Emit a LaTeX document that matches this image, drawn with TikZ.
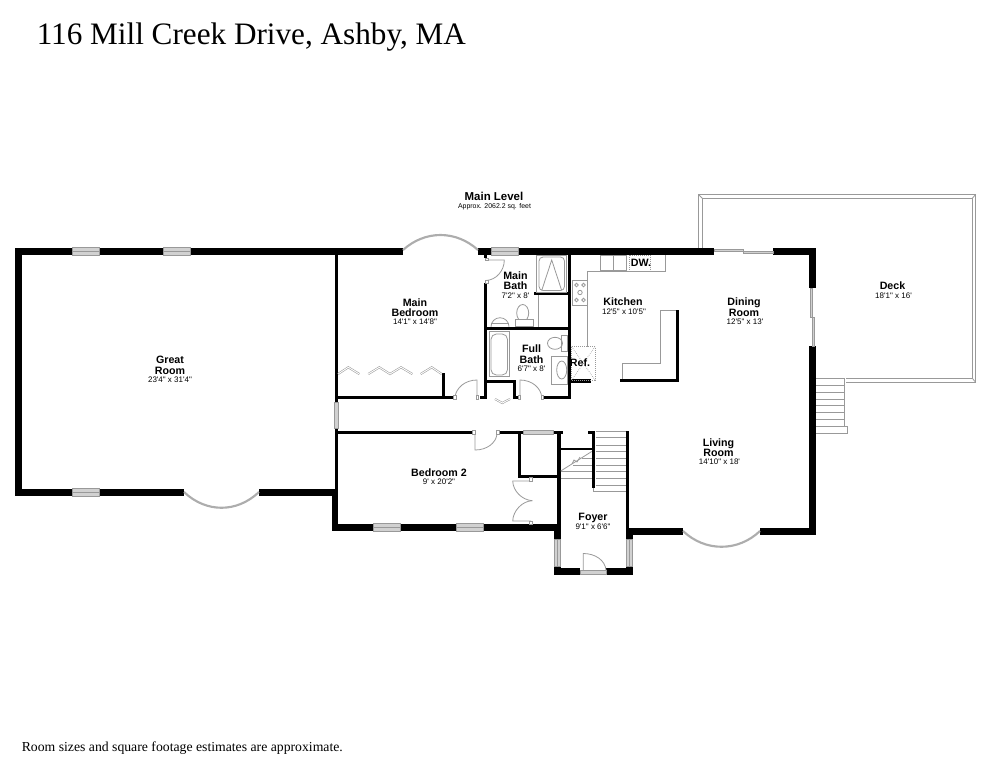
\documentclass[tikz,border=0pt]{standalone}
\usepackage{fontspec}
\usepackage{xcolor}
\newfontfamily\plansans{Liberation Sans}
\newfontfamily\planserif{Liberation Serif}
\definecolor{fixture}{gray}{0.6}
\definecolor{glass}{gray}{0.82}
\tikzset{
	wall/.style={fill=black},
	fixline/.style={draw=fixture, line width=0.6pt},
	bayline/.style={draw=fixture!80, line width=1.6pt},
	window/.style={draw=fixture, line width=0.5pt, fill=glass},
	doorleaf/.style={draw=fixture, line width=0.6pt},
	bifold/.style={draw=fixture, line width=0.4pt, double=white, double distance=0.7pt},
	jamb/.style={draw=fixture, line width=0.4pt, fill=white},
	dotbox/.style={draw=fixture, line width=0.5pt, densely dotted},
	roomname/.style={font=\plansans\bfseries\fontsize{8}{7.8}\selectfont, align=center, inner sep=0pt},
	roomsize/.style={font=\plansans\fontsize{6}{7}\selectfont, align=center, inner sep=0pt}
}

\begin{document}
\begin{tikzpicture}[x=0.75pt, y=-0.75pt]
	\useasboundingbox (0, 0) rectangle (994, 768);
	% Outer walls:
	\fill[wall] (15, 248) rectangle (72, 255);
	\fill[wall] (99, 248) rectangle (163, 255);
	\fill[wall] (190, 248) rectangle (403, 255);
	\fill[wall] (478, 248) rectangle (491, 255);
	\fill[wall] (518, 248) rectangle (714, 255);
	\fill[wall] (773, 248) rectangle (815.5, 255);
	\fill[wall] (15, 248) rectangle (22, 495.5);
	\fill[wall] (15, 488.5) rectangle (72, 495.5);
	\fill[wall] (99, 488.5) rectangle (184, 495.5);
	\fill[wall] (259, 488.5) rectangle (338, 495.5);
	\fill[wall] (331.5, 488.5) rectangle (338, 531);
	\fill[wall] (331.5, 524) rectangle (373, 531);
	\fill[wall] (400, 524) rectangle (456, 531);
	\fill[wall] (483, 524) rectangle (561, 531);
	\fill[wall] (554, 524) rectangle (561, 539);
	\fill[wall] (554, 566) rectangle (561, 575);
	\fill[wall] (554, 568) rectangle (580, 575);
	\fill[wall] (606, 568) rectangle (633, 575);
	\fill[wall] (626, 566) rectangle (633, 575);
	\fill[wall] (626, 527.5) rectangle (633, 539);
	\fill[wall] (626, 527.5) rectangle (683, 534.5);
	\fill[wall] (760, 527.5) rectangle (815.5, 534.5);
	\fill[wall] (808.5, 248) rectangle (815.5, 288);
	\fill[wall] (808.5, 346) rectangle (815.5, 534.5);
	% Inner walls:
	\fill[wall] (335, 252) rectangle (338, 402);
	\fill[wall] (335, 428) rectangle (338, 490);
	\fill[wall] (335, 395.7) rectangle (453.5, 399);
	\fill[wall] (441.7, 372.7) rectangle (445, 399);
	\fill[wall] (484.3, 252) rectangle (487.3, 258);
	\fill[wall] (484.3, 283) rectangle (487.3, 399);
	\fill[wall] (480, 395.7) rectangle (487.3, 399);
	\fill[wall] (484.3, 326.7) rectangle (570.7, 330);
	\fill[wall] (534.3, 292.3) rectangle (570.7, 295);
	\fill[wall] (567.7, 252) rectangle (570.7, 399);
	\fill[wall] (487, 380) rectangle (516, 383);
	\fill[wall] (513.3, 380) rectangle (516, 399);
	\fill[wall] (513, 395.7) rectangle (518, 399);
	\fill[wall] (543.5, 395.7) rectangle (570.7, 399);
	\fill[wall] (570, 379.3) rectangle (590.7, 382.7);
	\fill[wall] (620, 378.5) rectangle (679, 382);
	\fill[wall] (675.7, 309.5) rectangle (679, 382);
	\fill[wall] (335, 430.7) rectangle (472, 434);
	\fill[wall] (499, 430.7) rectangle (523, 434);
	\fill[wall] (553, 430.7) rectangle (563, 434);
	\fill[wall] (518, 431) rectangle (520.7, 477.5);
	\fill[wall] (518, 475) rectangle (560, 477.5);
	\fill[wall] (557.3, 431) rectangle (560.7, 528);
	\fill[wall] (560, 447.7) rectangle (592, 450.3);
	\fill[wall] (588, 431) rectangle (595, 434);
	\fill[wall] (591.7, 431) rectangle (595, 488);
	\fill[wall] (626, 431) rectangle (628.7, 528);
	% Windows:
	\filldraw[window] (72, 247.5) rectangle (99, 255.5);
	\draw[fixline] (72, 251.5) -- (99, 251.5);
	\filldraw[window] (163, 247.5) rectangle (190, 255.5);
	\draw[fixline] (163, 251.5) -- (190, 251.5);
	\filldraw[window] (72, 488) rectangle (99, 496);
	\draw[fixline] (72, 492) -- (99, 492);
	\filldraw[window] (491, 247.5) rectangle (518, 255.5);
	\draw[fixline] (491, 251.5) -- (518, 251.5);
	\filldraw[window] (373, 523.5) rectangle (400, 531.5);
	\draw[fixline] (373, 527.5) -- (400, 527.5);
	\filldraw[window] (456, 523.5) rectangle (483, 531.5);
	\draw[fixline] (456, 527.5) -- (483, 527.5);
	\filldraw[window] (523, 430.5) rectangle (553, 434.5);
	\filldraw[window] (334.8, 402) rectangle (338.2, 428);
	\filldraw[window] (554.5, 539) rectangle (560.5, 566);
	\draw[fixline] (557.5, 539) -- (557.5, 566);
	\filldraw[window] (626.5, 539) rectangle (632.5, 566);
	\draw[fixline] (629.5, 539) -- (629.5, 566);
	% Bay windows:
	\draw[bayline] (403, 250) .. controls (425, 230) and (456, 230) .. (478, 250);
	\draw[bayline] (184, 492) .. controls (206, 513) and (237, 513) .. (259, 492);
	\draw[bayline] (683, 531) .. controls (705, 552) and (738, 552) .. (760, 531);
	% Sliding doors:
	\draw[window] (714, 249.5) rectangle (743, 251.5);
	\draw[window] (743, 251.5) rectangle (773, 253.5);
	\draw[window] (810, 288) rectangle (812, 317);
	\draw[window] (812, 317) rectangle (814, 346);
	% Doors:
	\draw[doorleaf] (486, 260) -- (504.3, 260) .. controls (504.3, 271) and (496, 280) .. (486, 280.5);
	\draw[doorleaf] (477, 397) -- (477, 380) .. controls (465, 380) and (456, 388) .. (455, 397);
	\draw[doorleaf] (520, 397) -- (520, 380) .. controls (532, 380) and (541, 388) .. (541.7, 397);
	\draw[doorleaf] (475, 434) -- (475, 450) .. controls (487, 450) and (496, 443) .. (497, 434);
	\draw[doorleaf] (531, 481) -- (512.7, 481) .. controls (513, 491) and (522, 500) .. (532.3, 500.7);
	\draw[doorleaf] (531, 521) -- (512.7, 521) .. controls (513, 511) and (522, 501) .. (532.3, 500.7);
	\draw[doorleaf] (583.3, 570) -- (583.3, 553.5) .. controls (595, 553.5) and (605, 560) .. (606, 570);
	\draw[window] (580, 570) rectangle (606, 574);
	% Door jambs:
	\filldraw[jamb] (484.8, 258) rectangle (487.8, 260.5);
	\filldraw[jamb] (484.8, 280.5) rectangle (487.8, 283);
	\filldraw[jamb] (453.5, 395.7) rectangle (456, 399);
	\filldraw[jamb] (476, 395.7) rectangle (478.5, 399);
	\filldraw[jamb] (518, 395.7) rectangle (520.5, 399);
	\filldraw[jamb] (541, 395.7) rectangle (543.5, 399);
	\filldraw[jamb] (472, 430.7) rectangle (475, 434);
	\filldraw[jamb] (496.5, 430.7) rectangle (499, 434);
	\filldraw[jamb] (529.5, 477.5) rectangle (532.5, 481);
	\filldraw[jamb] (529.5, 521) rectangle (532.5, 524);
	% Bifold closet doors:
	\draw[bifold] (338, 374) -- (348.3, 367.3) -- (359.3, 374);
	\draw[bifold] (368.3, 374) -- (379.3, 367.3) -- (390, 374) -- (401, 367.3) -- (412.3, 374);
	\draw[bifold] (420.7, 374) -- (431.7, 367.3) -- (441.7, 374);
	\draw[bifold] (495, 399) -- (502.3, 403) -- (510, 399);
	% Main bath fixtures:
	\draw[fixline] (536.7, 255) rectangle (566.7, 292);
	\draw[fixline, rounded corners=3pt] (539, 257) rectangle (564.5, 290.5);
	\draw[fixline] (541.7, 290.5) -- (551.7, 260) -- (561.7, 290.5);
	\draw[fixline] (538.3, 295) -- (538.3, 326.7);
	\draw[fixline] (491, 326.7) arc[start angle=180, end angle=360, radius=9];
	\draw[fixline] (491, 323) -- (509, 323);
	\draw[fixline] (522.7, 313) ellipse[x radius=6, y radius=8.5];
	\draw[fixline, fill=white] (515, 319.5) rectangle (533.3, 326.7);
	% Full bath fixtures:
	\draw[fixline] (489.3, 331.7) rectangle (509, 376.7);
	\draw[fixline, rounded corners=4pt] (491, 334) -- (507.5, 334) -- (507.5, 375) -- (491, 375) -- cycle;
	\draw[fixline] (561.7, 335) rectangle (567.7, 351.7);
	\draw[fixline] (555, 343.3) ellipse[x radius=7.5, y radius=6];
	\draw[fixline] (551.7, 356) rectangle (567.7, 384);
	\draw[fixline] (561.7, 370) ellipse[x radius=5, y radius=9];
	% Kitchen:
	\draw[fixline] (587.7, 346.7) -- (587.7, 271.7) -- (665.5, 271.7) -- (665.5, 255);
	\draw[fixline] (572, 280) rectangle (587.7, 305);
	\draw[fixline] (576.5, 285) circle[radius=1.8];
	\draw[fixline] (583.5, 285) circle[radius=1.8];
	\draw[fixline] (576.5, 300) circle[radius=1.8];
	\draw[fixline] (583.5, 300) circle[radius=1.8];
	\draw[fixline] (580, 292.5) circle[radius=2.2];
	\draw[fixline] (600.7, 255) rectangle (626.7, 270);
	\draw[fixline] (613.7, 255) -- (613.7, 270);
	\draw[dotbox] (629, 255) rectangle (650, 271);
	\draw[dotbox] (571.7, 346.7) rectangle (595, 380);
	\draw[dotbox] (571.7, 346.7) -- (595, 380) (571.7, 380) -- (595, 346.7);
	\draw[fixline] (660, 310.5) -- (675.7, 310.5) (660, 310.5) -- (660, 363) -- (622.7, 363) -- (622.7, 378.5);
	% Main stairs:
	\draw[fixline] (595.7, 431) -- (626, 431) (595.7, 437.6) -- (626, 437.6) (595.7, 445) -- (626, 445) (595.7, 451) -- (626, 451) (595.7, 458.3) -- (626, 458.3) (595.7, 465) -- (626, 465) (595.7, 471.7) -- (626, 471.7) (595.7, 478.3) -- (626, 478.3) (595.7, 485) -- (626, 485) (593, 491) -- (626, 491) (593, 488) -- (593, 491);
	\draw[fixline] (560.7, 471) -- (591.7, 451.5);
	\draw[fixline] (573, 465) -- (591.7, 465) (560.7, 471.7) -- (591.7, 471.7) (560.7, 478) -- (591.7, 478) (582, 458.3) -- (591.7, 458.3);
	\draw[fixline] (572, 464) -- (574, 460) -- (577, 462) -- (580, 457);
	% Deck:
	\draw[fixline] (698.3, 248) -- (698.3, 194.3) -- (975.7, 194.3) -- (975.7, 382.3) -- (845.7, 382.3);
	\draw[fixline] (702.3, 248) -- (702.3, 198.3) -- (972.3, 198.3) -- (972.3, 378.3) -- (845.7, 378.3);
	\draw[fixline] (698.3, 194.3) -- (702.3, 198.3) (975.7, 194.3) -- (972.3, 198.3) (975.7, 382.3) -- (972.3, 378.3);
	\draw[fixline] (816, 378.3) -- (845, 378.3) (816, 385) -- (845, 385) (816, 392.3) -- (845, 392.3) (816, 399) -- (845, 399) (816, 405.7) -- (845, 405.7) (816, 412.7) -- (845, 412.7) (816, 419.3) -- (845, 419.3) (816, 426) -- (845, 426);
	\draw[fixline] (844.7, 378.3) -- (844.7, 426);
	\draw[fixline] (816, 426) -- (847.5, 426) -- (847.5, 433.3) -- (816, 433.3);
	% Labels:
	\node[anchor=base west, inner sep=0pt, font=\planserif\fontsize{23.4}{26}\selectfont] (plantitle) at (36.5, 44.5) {116 Mill Creek Drive, Ashby, MA};
	\node[anchor=base west, inner sep=0pt, font=\planserif\fontsize{10.3}{12}\selectfont] (plannote) at (21.5, 751.5) {Room sizes and square footage estimates are approximate.};
	\node[roomname, font=\plansans\bfseries\fontsize{8.6}{9}\selectfont] (levelname) at (494, 196) {Main Level};
	\node[roomsize, font=\plansans\fontsize{5.2}{6}\selectfont] (levelarea) at (494.5, 206.5) {Approx. 2062.2 sq. feet};
	\node[roomname] (greatname) at (170, 365.5) {Great\\Room};
	\node[roomsize] (greatsize) at (170, 379.5) {23'4" x 31'4"};
	\node[roomname] (bedname) at (415, 307.5) {Main\\Bedroom};
	\node[roomsize] (bedsize) at (415, 322) {14'1" x 14'8"};
	\node[roomname] (mbathname) at (515.5, 280.5) {Main\\Bath};
	\node[roomsize] (mbathsize) at (515.5, 295.5) {7'2" x 8'};
	\node[roomname] (fbathname) at (531.5, 354) {Full\\Bath};
	\node[roomsize] (fbathsize) at (531.5, 369) {6'7" x 8'};
	\node[roomname] (kitchenname) at (623, 302) {Kitchen};
	\node[roomsize] (kitchensize) at (624, 312) {12'5" x 10'5"};
	\node[roomname] (diningname) at (744, 307) {Dining\\Room};
	\node[roomsize] (diningsize) at (745, 322) {12'5" x 13'};
	\node[roomname] (livingname) at (718.5, 447.5) {Living\\Room};
	\node[roomsize] (livingsize) at (719.5, 461.5) {14'10" x 18'};
	\node[roomname] (deckname) at (892.5, 286) {Deck};
	\node[roomsize] (decksize) at (893.5, 296) {18'1" x 16'};
	\node[roomname] (bed2name) at (439, 472.5) {Bedroom 2};
	\node[roomsize] (bed2size) at (439, 482) {9' x 20'2"};
	\node[roomname] (foyername) at (593, 518) {Foyer};
	\node[roomsize] (foyersize) at (593, 527) {9'1" x 6'6"};
	\node[roomname] (dwname) at (641, 263) {DW.};
	\node[roomname] (refname) at (580, 362.5) {Ref.};
\end{tikzpicture}
\end{document}
